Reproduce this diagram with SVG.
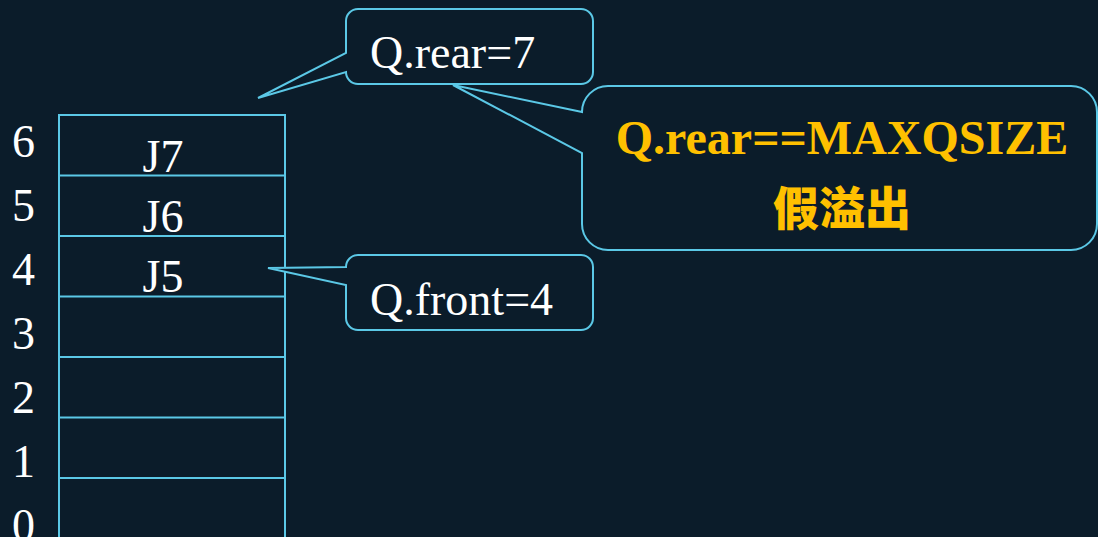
<svg xmlns="http://www.w3.org/2000/svg" width="1098" height="537" viewBox="0 0 1098 537">
<style>
.bg{fill:#0b1c2a}
.ln{fill:none;stroke:#5bc8e6;stroke-width:2}
.co{fill:#0b1c2a;stroke:#5bc8e6;stroke-width:2;stroke-linejoin:miter}
.t{font-family:"Liberation Serif","Times New Roman",serif;font-size:46px;fill:#ffffff}
.o{font-family:"Liberation Serif","Times New Roman",serif;font-size:48px;font-weight:bold;fill:#ffc000}
.cjk{font-family:"Noto Sans CJK SC","Noto Sans CJK TC",sans-serif;font-size:46px;font-weight:900;fill:#ffc000}
</style>
<rect class="bg" x="0" y="0" width="1098" height="537"/>
<g id="queue">
<rect class="ln" x="59" y="115" width="226" height="430"/>
<path class="ln" d="M59 175.5H285M59 236H285M59 296.5H285M59 357H285M59 417.5H285M59 478H285"/>
<text class="t" x="163" y="172" text-anchor="middle">J7</text>
<text class="t" x="163" y="232" text-anchor="middle">J6</text>
<text class="t" x="163" y="292" text-anchor="middle">J5</text>
</g>
<g id="indices">
<text class="t" x="12" y="157">6</text>
<text class="t" x="12" y="221">5</text>
<text class="t" x="12" y="285">4</text>
<text class="t" x="12" y="349">3</text>
<text class="t" x="12" y="413">2</text>
<text class="t" x="12" y="477">1</text>
<text class="t" x="12" y="541">0</text>
</g>
<g id="connectors">
</g>
<g id="callout-rear">
<path class="co" d="M358 9H581A12 12 0 0 1 593 21V72A12 12 0 0 1 581 84H358A12 12 0 0 1 346 72L258 98L346 53V21A12 12 0 0 1 358 9Z"/>
<text class="t" x="370" y="68">Q.rear=7</text>
</g>
<g id="callout-front">
<path class="co" d="M358 255H581A12 12 0 0 1 593 267V318A12 12 0 0 1 581 330H358A12 12 0 0 1 346 318V285L268 268L346 267A12 12 0 0 1 358 255Z"/>
<text class="t" x="370" y="315">Q.front=4</text>
</g>
<g id="callout-overflow">
<path class="co" d="M608 86H1071A26 26 0 0 1 1097 112V224A26 26 0 0 1 1071 250H608A26 26 0 0 1 582 224V153L453 85L582 112A26 26 0 0 1 608 86Z"/>
<text class="o" x="842" y="154" text-anchor="middle">Q.rear==MAXQSIZE</text>
<text class="cjk" x="842" y="225" text-anchor="middle">假溢出</text>
</g>
</svg>
